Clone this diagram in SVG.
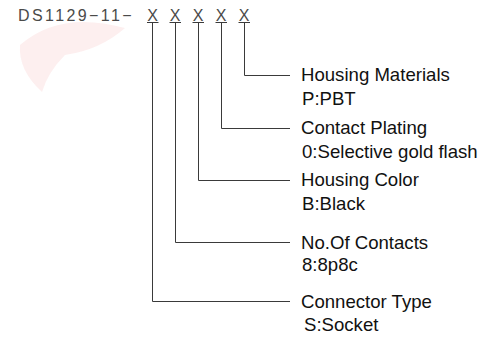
<svg xmlns="http://www.w3.org/2000/svg" width="484" height="343" viewBox="0 0 484 343">
<style>
.t{font-family:"Liberation Sans",Arial,sans-serif;font-size:18.6px;fill:#111}
.code{font-family:"Liberation Sans",Arial,sans-serif;font-size:16px;fill:#4a4a4a;letter-spacing:2.4px}
.x{font-family:"Liberation Sans",Arial,sans-serif;font-size:16px;fill:#4a4a4a;text-anchor:middle}
.ln{fill:none;stroke:#3a3a3a;stroke-width:1}
</style>
<rect width="484" height="343" fill="#fff"/>
<g id="watermark" opacity="0.07">
<path d="M20 45 Q60 10 125 28 Q100 50 65 55 Q48 72 42 92 Q18 70 20 45 Z" fill="#d22"/>
</g>
<g id="code">
<text class="code" x="18" y="20.5">DS1129−11−</text>
<text class="x" x="152.5" y="20.5">X</text>
<text class="x" x="175" y="20.5">X</text>
<text class="x" x="198" y="20.5">X</text>
<text class="x" x="221" y="20.5">X</text>
<text class="x" x="244" y="20.5">X</text>
</g>
<g id="connectors">
<path class="ln" d="M147 22.5H158.5M169.5 22.5H181M192.5 22.5H204M215.5 22.5H227M238.5 22.5H250"/>
<path class="ln" d="M244.5 22.5V75.5H290"/>
<path class="ln" d="M221.5 22.5V128.5H290"/>
<path class="ln" d="M198.5 22.5V180.5H290"/>
<path class="ln" d="M175.5 22.5V242.5H290"/>
<path class="ln" d="M152.5 22.5V301.5H290"/>
</g>
<g id="housing-materials">
<text class="t" x="301" y="81">Housing Materials</text>
<text class="t" x="302" y="105">P:PBT</text>
</g>
<g id="contact-plating">
<text class="t" x="301" y="134">Contact Plating</text>
<text class="t" x="302" y="158">0:Selective gold flash</text>
</g>
<g id="housing-color">
<text class="t" x="301" y="186">Housing Color</text>
<text class="t" x="302" y="210">B:Black</text>
</g>
<g id="no-of-contacts">
<text class="t" x="301" y="249">No.Of Contacts</text>
<text class="t" x="302" y="271">8:8p8c</text>
</g>
<g id="connector-type">
<text class="t" x="301" y="308">Connector Type</text>
<text class="t" x="304" y="331">S:Socket</text>
</g>
</svg>
